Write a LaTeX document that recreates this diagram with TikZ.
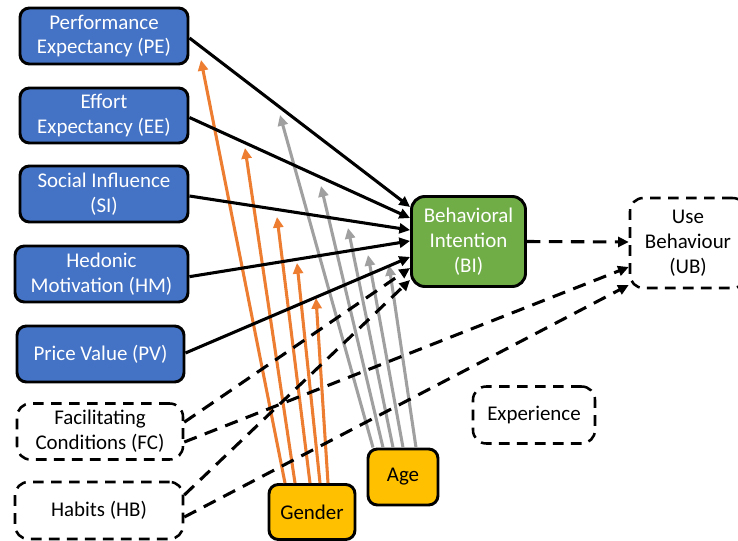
\documentclass[tikz,border=0pt]{standalone}
\usepackage{fontspec}
\setmainfont{Carlito}
\usetikzlibrary{arrows.meta}
\definecolor{pblue}{HTML}{4472C4}
\definecolor{pgreen}{HTML}{70AD47}
\definecolor{pgold}{HTML}{FFC000}
\definecolor{porange}{HTML}{ED7D31}
\definecolor{pgray}{HTML}{A0A0A0}
\tikzset{
  box/.style={rectangle, rounded corners=7pt, line width=2.2pt, draw=black,
    align=center, inner sep=0pt, font=\fontsize{15.7}{18.6}\selectfont},
  construct/.style={box, fill=pblue, text=white},
  intention/.style={box, fill=pgreen, text=white, rounded corners=10pt},
  moderator/.style={box, fill=pgold},
  latent/.style={box, line width=1.9pt, dash pattern=on 8pt off 5.5pt, rounded corners=10pt},
  tip/.style={-{Triangle[length=8pt,width=7.5pt]}},
  effect/.style={tip, line width=2.3pt, black},
  dasheffect/.style={tip, line width=2.3pt, black, dash pattern=on 10pt off 6.5pt},
  genderlink/.style={tip, line width=2.3pt, porange},
  agelink/.style={tip, line width=2.3pt, pgray},
}
\begin{document}
\begin{tikzpicture}[x=0.75pt, y=-0.75pt]
\useasboundingbox (0,0) rectangle (738,541);
\clip (0,0) rectangle (738,541);

% predictor constructs
\node[construct, minimum width=126pt, minimum height=42pt] (pe) at (104,36) {Performance\\Expectancy (PE)};
\node[construct, minimum width=126pt, minimum height=41.25pt] (ee) at (104,115.5) {Effort\\Expectancy (EE)};
\node[construct, minimum width=126pt, minimum height=42pt] (si) at (104,194) {Social Influence\\(SI)};
\node[construct, minimum width=129.75pt, minimum height=42pt] (hm) at (101.5,274) {Hedonic\\Motivation (HM)};
\node[construct, minimum width=125.25pt, minimum height=42pt] (pv) at (100.5,354) {Price Value (PV)};
\node[latent, minimum width=124.5pt, minimum height=42pt] (fc) at (100,431.5) {Facilitating\\Conditions (FC)};
\node[latent, minimum width=126pt, minimum height=42.75pt] (hb) at (99,510.5) {Habits (HB)};

% outcome constructs
\node[intention, minimum width=85.5pt, minimum height=67.5pt] (bi) at (468.5,241.5) {Behavioral\\Intention\\(BI)};
\node[latent, minimum width=87pt, minimum height=67.5pt] (ub) at (688,243) {Use\\Behaviour\\(UB)};

% moderators
\node[moderator, minimum width=64.5pt, minimum height=41.25pt] (gender) at (312,512) {Gender};
\node[moderator, minimum width=52.5pt, minimum height=42pt] (age) at (403,477) {Age};
\node[latent, minimum width=91.5pt, minimum height=42.75pt] (exp) at (534,415) {Experience};

% moderating arrow heads
\coordinate (o1) at (201,60);
\coordinate (o2) at (245,148);
\coordinate (o3) at (277,217);
\coordinate (o4) at (297,263);
\coordinate (o5) at (316,298);
\coordinate (g1) at (280,115);
\coordinate (g2) at (321,186);
\coordinate (g3) at (348,228);
\coordinate (g4) at (368,255);
\coordinate (g5) at (389,265);

% gender moderation
\draw[genderlink] ([xshift=-20.25pt]gender.north) -- (o1);
\draw[genderlink] ([xshift=-12.75pt]gender.north) -- (o2);
\draw[genderlink] ([xshift=-1.5pt]gender.north) -- (o3);
\draw[genderlink] ([xshift=6pt]gender.north) -- (o4);
\draw[genderlink] ([xshift=12pt]gender.north) -- (o5);

% age moderation
\draw[agelink] ([xshift=-22.5pt]age.north) -- (g1);
\draw[agelink] ([xshift=-15pt]age.north) -- (g2);
\draw[agelink] ([xshift=-7.5pt]age.north) -- (g3);
\draw[agelink] (age.north) -- (g4);
\draw[agelink] ([xshift=9.75pt]age.north) -- (g5);

% direct effects on intention
\draw[effect] ([yshift=-1.5pt]pe.east) -- ([yshift=25.9pt]bi.west);
\draw[effect] ([yshift=-1.5pt]ee.east) -- ([yshift=17.6pt]bi.west);
\draw[effect] ([yshift=-1.5pt]si.east) -- ([yshift=8.6pt]bi.west);
\draw[effect] ([yshift=-2pt]hm.east) -- ([yshift=0.4pt]bi.west);
\draw[effect] ([yshift=0.75pt]pv.east) -- ([yshift=-11.6pt]bi.west);
\draw[dasheffect] ([yshift=7pt]fc.east) -- ([yshift=-19.9pt]bi.west);
\draw[dasheffect] ([yshift=11.6pt]hb.east) -- ([yshift=-28.9pt]bi.west);

% effects on use behaviour
\draw[dasheffect] (bi.east) -- ([yshift=0.75pt]ub.west);
\draw[dasheffect] ([yshift=-7.9pt]fc.east) -- ([yshift=-18pt]ub.west);
\draw[dasheffect] ([yshift=-4.9pt]hb.east) -- ([yshift=-31.5pt]ub.west);
\end{tikzpicture}
\end{document}
